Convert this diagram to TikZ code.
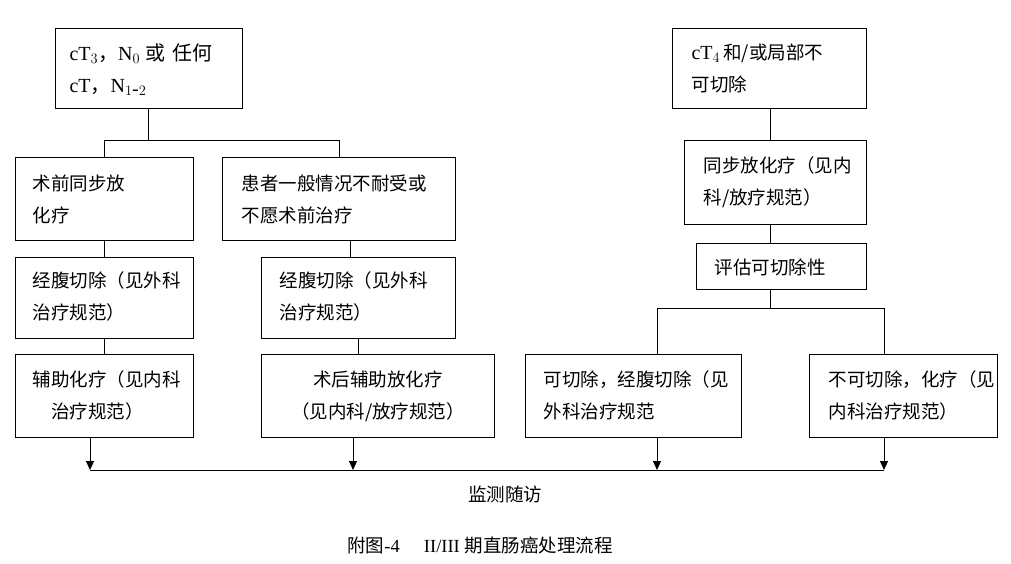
\documentclass[tikz,border=0pt]{standalone}
\usepackage{fontspec}
\setmainfont{Liberation Serif}
\newfontfamily\cjk{Noto Sans CJK SC}
\usetikzlibrary{arrows.meta}
\begin{document}
\begin{tikzpicture}[x=1pt,y=-1pt,
 bx/.style={draw,line width=0.9pt,inner sep=0pt},
 tx/.style={font=\fontsize{18.5}{32}\selectfont\cjk,align=left,anchor=north west},
 ln/.style={line width=0.9pt},
 ar/.style={line width=0.9pt,-{Triangle[length=9pt,width=8pt]}}]
\useasboundingbox (0,0) rectangle (1011,564);
\fill[white] (0,0) rectangle (1011,564);
% boxes
\draw[bx] (55,28) rectangle (242,108);
\node[tx] (A) at (66,40) {\fontsize{20}{32}\selectfont\rmfamily cT$_3${\cjk ，}N$_0$ {\cjk 或\, 任何}\\ \fontsize{20}{32}\selectfont\rmfamily cT{\cjk ，}N$_{1\mbox{-}2}$};
\draw[bx] (672,28) rectangle (866,108);
\node[tx] (B) at (688,40) {{\fontsize{20}{32}\selectfont\rmfamily cT$_4$}\,和/或局部不\\可切除};
\draw[bx] (15,157) rectangle (193,240);
\node[tx] (C) at (29,171) {术前同步放\\化疗};
\draw[bx] (222,157) rectangle (455,240);
\node[tx] (D) at (238,171) {患者一般情况不耐受或\\不愿术前治疗};
\draw[bx] (15,257) rectangle (193,338);
\node[tx] (E) at (29,268) {经腹切除（见外科\\治疗规范）};
\draw[bx] (261,257) rectangle (455,338);
\node[tx] (F) at (276,268) {经腹切除（见外科\\治疗规范）};
\draw[bx] (15,354) rectangle (193,437);
\node[tx] (G) at (29,367) {辅助化疗（见内科\\\hspace*{1em}治疗规范）};
\draw[bx] (261,354) rectangle (494,437);
\node[tx,align=center,anchor=north] (H) at (378,367) {术后辅助放化疗\\（见内科/放疗规范）};
\draw[bx] (684,140) rectangle (866,224);
\node[tx] (I) at (700,153) {同步放化疗（见内\\科/放疗规范）};
\draw[bx] (696,243) rectangle (866,289);
\node[tx,anchor=center] (J) at (770,267) {评估可切除性};
\draw[bx] (525,354) rectangle (741,437);
\node[tx] (K) at (540,367) {可切除，经腹切除（见\\外科治疗规范};
\draw[bx] (809,354) rectangle (997,437);
\node[tx] (L) at (825,367) {不可切除，化疗（见\\内科治疗规范）};
% connectors
\coordinate (a1) at (148,108); \coordinate (a2) at (148,140);
\coordinate (c1) at (104,140); \coordinate (d1) at (339,140);
\draw[ln] (a1) -- (a2); \draw[ln] (104,157) -- (c1) -- (d1) -- (339,157);
\draw[ln] (104,240) -- (104,257);
\draw[ln] (350,240) -- (350,257);
\draw[ln] (104,338) -- (104,354);
\draw[ln] (358,338) -- (358,354);
\draw[ln] (770,108) -- (770,140);
\draw[ln] (770,224) -- (770,243);
\draw[ln] (770,289) -- (770,308);
\draw[ln] (657,354) -- (657,308) -- (884,308) -- (884,354);
% bottom
\draw[ln] (90,470) -- (884,470);
\foreach \x in {90,353,657,884} \draw[ar] (\x,437) -- (\x,470);
\node[font=\fontsize{18.5}{20}\selectfont\cjk] (M) at (505,494) {监测随访};
\node[font=\fontsize{18.5}{20}\selectfont] (N) at (480,545) {{\cjk 附图}-4\hspace{1.3em}II/III {\cjk 期直肠癌处理流程}};
\end{tikzpicture}
\end{document}
